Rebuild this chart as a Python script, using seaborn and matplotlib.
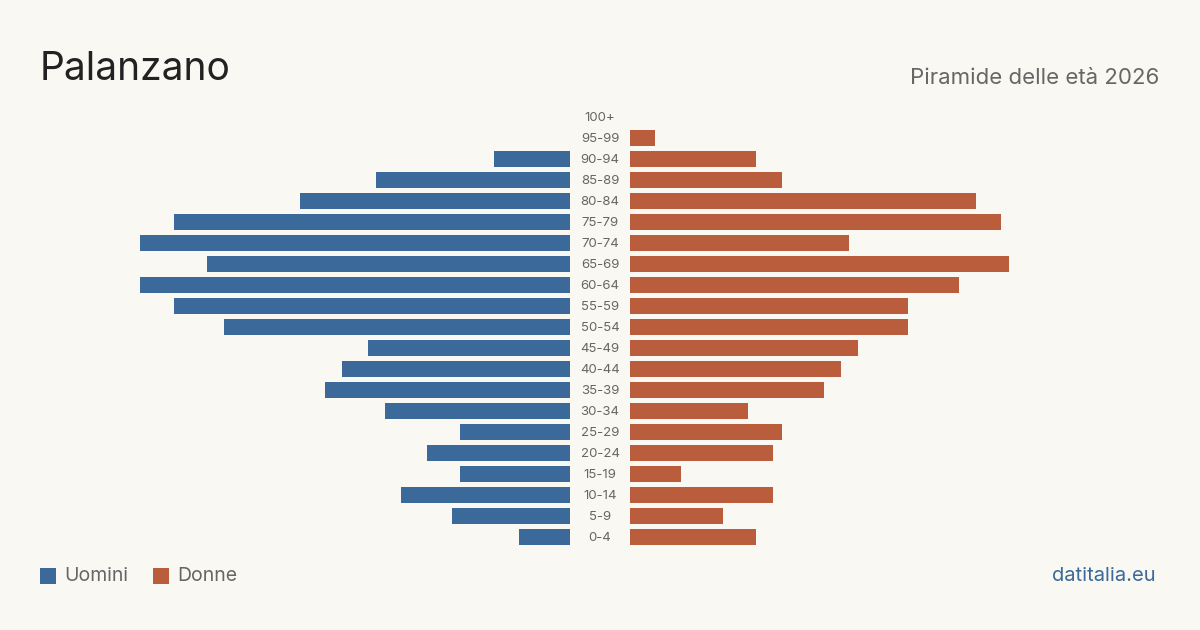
import matplotlib
matplotlib.use("Agg")
import matplotlib.pyplot as plt
import matplotlib.transforms as mtransforms
from matplotlib.patches import Rectangle
import seaborn as sns
import pandas as pd

age_groups = ["100+", "95-99", "90-94", "85-89", "80-84", "75-79", "70-74", "65-69",
              "60-64", "55-59", "50-54", "45-49", "40-44", "35-39", "30-34", "25-29",
              "20-24", "15-19", "10-14", "5-9", "0-4"]
men = [0, 0, 9, 23, 32, 47, 51, 43, 51, 47, 41, 24, 27, 29, 22, 13, 17, 13, 20, 14, 6]
women = [0, 3, 15, 18, 41, 44, 26, 45, 39, 33, 33, 27, 25, 23, 14, 18, 17, 6, 17, 11, 15]

title = "Palanzano"
subtitle = "Piramide delle età 2026"
legend_labels = ["Uomini", "Donne"]
source = "datitalia.eu"

BG = "#f9f8f3"
BLUE = "#3b6a9a"
ORANGE = "#b95d3c"
GRAY = "#666666"

sns.set_theme(style="white")
plt.rcParams["font.family"] = ["Inter", "DejaVu Sans"]

W, H = 1200, 630
fig = plt.figure(figsize=(12, 6.3), dpi=100, facecolor=BG)

df = pd.DataFrame({"age": age_groups, "men": men, "women": women})
xmax = max(max(men), max(women))

bottom = 1 - 547.5 / H
height = (547.5 - 106.5) / H
axL = fig.add_axes([140 / W, bottom, 430 / W, height])
axR = fig.add_axes([630 / W, bottom, 430 / W, height])

sns.barplot(data=df, y="age", x="men", order=age_groups, color=BLUE, width=0.8,
            saturation=1, linewidth=0, ax=axL)
sns.barplot(data=df, y="age", x="women", order=age_groups, color=ORANGE, width=0.8,
            saturation=1, linewidth=0, ax=axR)

axL.set_xlim(xmax, 0)
axR.set_xlim(0, xmax)
for ax in (axL, axR):
    ax.set_ylim(len(age_groups) - 0.5, -0.5)
    ax.set_facecolor(BG)
    ax.set_xlabel("")
    ax.set_ylabel("")
    ax.set_xticks([])
    ax.set_yticks([])
    for s in ax.spines.values():
        s.set_visible(False)

tr = mtransforms.blended_transform_factory(fig.transFigure, axR.transData)
for i, lab in enumerate(age_groups):
    fig.text(0.5, i + 0.05, lab, transform=tr, ha="center", va="center",
             fontsize=9.5, color=GRAY)

fig.text(40 / W, 1 - 80 / H, title, ha="left", va="baseline", fontsize=28, color="#222222")
fig.text(1159 / W, 1 - 83.5 / H, subtitle, ha="right", va="baseline", fontsize=16, color=GRAY)

# legend
for x0, col, lab in [(40, BLUE, legend_labels[0]), (153, ORANGE, legend_labels[1])]:
    fig.patches.append(Rectangle((x0 / W, 1 - 584 / H), 16 / W, 16 / H,
                                 transform=fig.transFigure, facecolor=col, edgecolor="none"))
    fig.text((x0 + 24) / W, 1 - 576 / H, lab, ha="left", va="center", fontsize=14, color=GRAY)

fig.text(1156 / W, 1 - 576 / H, source, ha="right", va="center", fontsize=14.5, color=BLUE)

fig.savefig("out.png", dpi=100, facecolor=BG)
